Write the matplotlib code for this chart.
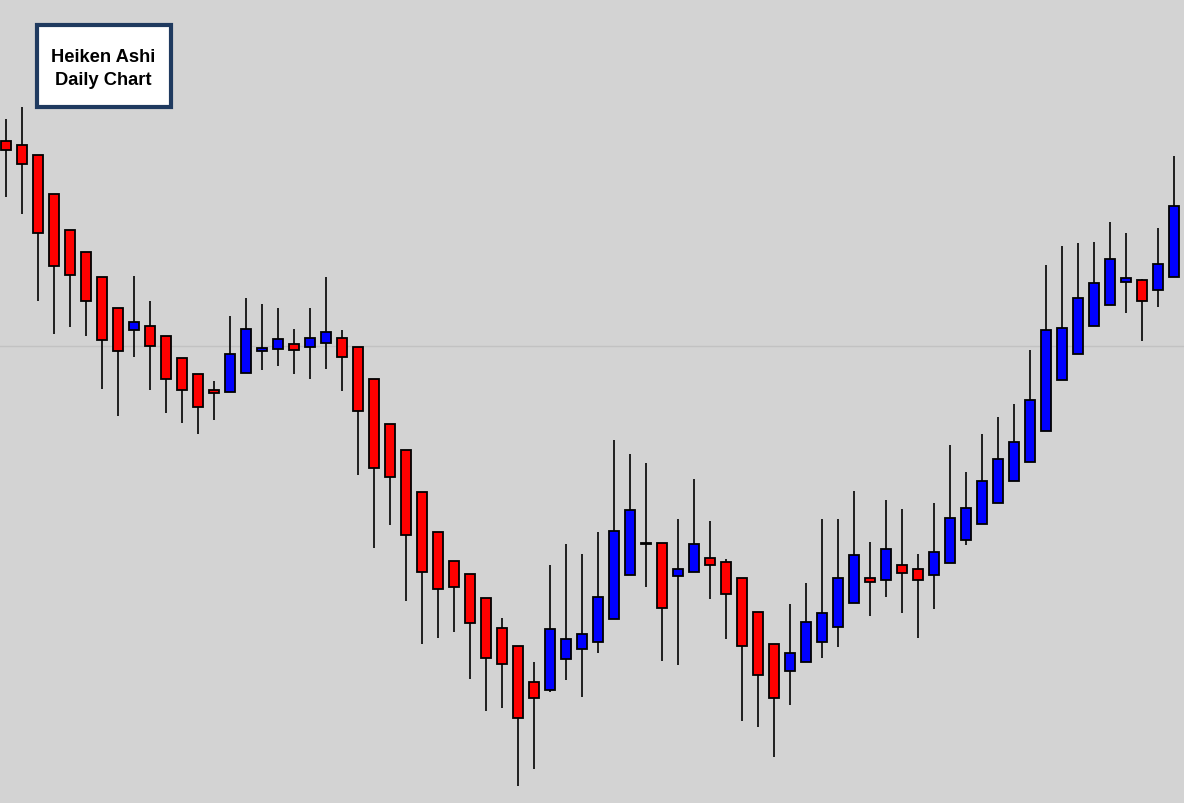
import numpy as np
import matplotlib
matplotlib.use("Agg")
from matplotlib import pyplot as plt
from matplotlib.patches import Rectangle

# Heiken Ashi daily candles (price units)
opens = [663, 659, 649, 610, 574, 552, 527, 496, 474, 478, 468, 446, 430, 414,
         412, 431, 453, 455, 460, 457, 461, 466, 457, 425, 380, 354, 312, 272,
         243, 230, 206, 176, 158, 122, 114, 145, 155, 162, 185, 229, 260, 261,
         228, 232, 246, 242, 226, 192, 160, 133, 142, 162, 177, 201, 226, 224,
         239, 235, 229, 241, 264, 280, 301, 323, 342, 373, 424, 450, 478, 499,
         522, 524, 514, 527]
closes = [654, 640, 571, 538, 529, 503, 464, 453, 482, 458, 425, 414, 397, 411,
          450, 475, 456, 465, 454, 466, 472, 447, 393, 336, 327, 269, 232, 215,
          217, 181, 146, 140, 86, 106, 175, 165, 170, 207, 273, 294, 261, 196,
          235, 260, 239, 210, 158, 129, 106, 151, 182, 191, 226, 249, 222, 255,
          231, 224, 252, 286, 296, 323, 345, 362, 404, 474, 476, 506, 521, 545,
          526, 503, 540, 598]
highs = [685, 697, 649, 610, 574, 552, 527, 496, 528, 503, 468, 446, 430, 423,
         488, 506, 500, 496, 475, 496, 527, 474, 457, 425, 380, 354, 312, 272,
         243, 230, 206, 186, 158, 142, 239, 260, 250, 272, 364, 350, 341, 261,
         285, 325, 283, 245, 226, 192, 160, 200, 221, 285, 285, 313, 262, 304,
         295, 250, 301, 359, 332, 370, 387, 400, 454, 539, 558, 561, 562, 582,
         571, 525, 576, 648]
lows = [607, 590, 503, 470, 477, 468, 415, 388, 447, 414, 391, 381, 370, 384,
        412, 431, 434, 438, 430, 425, 435, 413, 329, 256, 279, 203, 160, 166,
        172, 125, 93, 96, 18, 35, 112, 124, 107, 151, 185, 229, 217, 143,
        139, 232, 205, 165, 83, 77, 47, 99, 142, 146, 157, 201, 188, 207,
        191, 166, 195, 241, 259, 280, 301, 323, 342, 373, 424, 450, 478, 499,
        491, 463, 497, 527]
ref_level = 458

opens = np.array(opens)
closes = np.array(closes)
idx = np.arange(len(opens))
up = closes >= opens
colors = np.where(up, "#0000ff", "#ff0000")

fig = plt.figure(figsize=(11.84, 8.04), dpi=100)
fig.patch.set_facecolor("#d3d3d3")
ax = fig.add_axes([0, 0, 1, 1])
ax.set_facecolor("#d3d3d3")

ax.axhline(ref_level, color="#c2c2c2", lw=1, zorder=1)
ax.vlines(idx, lows, highs, color="black", lw=1.2, zorder=2)
ax.bar(idx, np.abs(closes - opens), bottom=np.minimum(opens, closes),
       width=0.64, color=colors, edgecolor="black", linewidth=1.3, zorder=3)

ax.set_xlim(-6.3 / 16, (1184 - 6.3) / 16)
ax.set_ylim(1, 805)
ax.axis("off")

# title box
W, H = 1184, 804
fig.patches.append(Rectangle((37.3 / W, 1 - 108 / H), 134 / W, 81.7 / H,
                             transform=fig.transFigure, facecolor="white",
                             edgecolor="#1f3a5f", linewidth=3, zorder=5))
fig.text(103 / W, 1 - 57 / H, "Heiken Ashi", ha="center", va="center",
         fontsize=13.2, fontweight="bold", family="Liberation Sans", zorder=6)
fig.text(103 / W, 1 - 80.5 / H, "Daily Chart", ha="center", va="center",
         fontsize=13.2, fontweight="bold", family="Liberation Sans", zorder=6)

fig.savefig("out.png", dpi=100, facecolor=fig.get_facecolor())
